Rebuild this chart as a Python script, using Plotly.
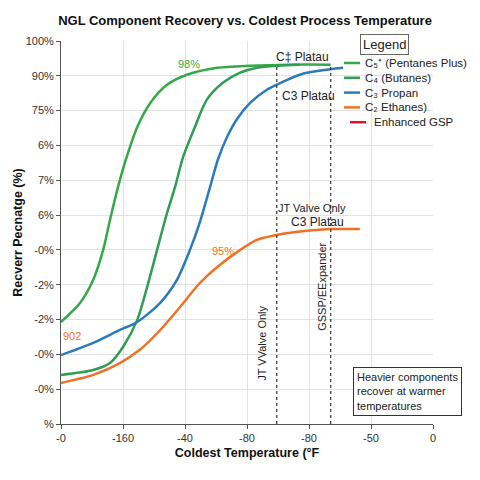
## NGL recovery chart

import plotly.graph_objects as go

# tick labels as printed on the chart (index positions 0..n)
x_ticks = ["-0", "-160", "-40", "-80", "-80", "-50", "0"]
y_ticks = ["%", "-0%", "-0%", "-2%", "-2%", "-0%", "6%", "7%", "6%", "75%", "90%", "100%"]

# curves in tick-index units
c5_x = [0, 0.31, 0.52, 0.68, 0.79, 0.92, 1.06, 1.23, 1.44, 1.71, 2.03, 2.52, 3.05, 3.69, 4.35]
c5_y = [2.93, 3.48, 4.14, 5.00, 5.86, 6.81, 7.67, 8.53, 9.22, 9.74, 10.03, 10.23, 10.29, 10.32, 10.32]

c4_x = [0, 0.52, 0.79, 1.00, 1.23, 1.39, 1.55, 1.71, 1.84, 1.97, 2.16, 2.35, 2.61, 2.89, 3.16, 3.48, 3.85]
c4_y = [1.41, 1.55, 1.75, 2.21, 2.99, 3.94, 5.00, 6.06, 6.81, 7.67, 8.53, 9.31, 9.80, 10.09, 10.23, 10.29, 10.32]

c3_x = [0, 0.52, 0.95, 1.23, 1.60, 1.87, 2.08, 2.24, 2.40, 2.53, 2.68, 2.84, 3.05, 3.32, 3.58, 3.90, 4.55]
c3_y = [1.98, 2.33, 2.70, 2.93, 3.48, 4.14, 5.00, 5.80, 6.78, 7.59, 8.25, 8.76, 9.22, 9.60, 9.83, 10.06, 10.23]

c2_x = [0, 0.52, 0.95, 1.27, 1.60, 1.92, 2.24, 2.52, 2.89, 3.16, 3.48, 3.97, 4.34, 4.82]
c2_y = [1.18, 1.41, 1.75, 2.13, 2.70, 3.36, 4.05, 4.51, 5.00, 5.29, 5.43, 5.55, 5.60, 5.60]

# dashed process limits
limit_x = [3.48, 4.35]
limit_top = 10.32

names = ["C₅⁺ (Pentanes Plus)", "C₄ (Butanes)", "C₃ Propan", "C₂ Ethanes)", "Enhanced GSP"]
colors = ["#35a84a", "#2f9e52", "#2b7bba", "#f07025", "#e0102a"]

font = "Liberation Sans, Arial, sans-serif"

fig = go.Figure()

for name, xs, ys, col in zip(names, [c5_x, c4_x, c3_x, c2_x], [c5_y, c4_y, c3_y, c2_y], colors):
    fig.add_trace(go.Scatter(x=xs, y=ys, name=name, mode="lines", showlegend=False,
                             line=dict(color=col, width=2.5, shape="spline", smoothing=0.8)))

for lx in limit_x:
    fig.add_trace(go.Scatter(x=[lx, lx], y=[0, limit_top], mode="lines", showlegend=False,
                             line=dict(color="#333", width=1.2, dash="3px,3px")))

notes = [
    ("C‡ Platau", 3.90, 10.55, "#222", 12, 0, "center"),
    ("C3 Platau", 3.53, 9.43, "#222", 12, 0, "left"),
    ("98%", 2.06, 10.34, "#35a84a", 11, 0, "center"),
    ("JT Valve Only", 4.05, 6.21, "#222", 11, 0, "center"),
    ("C3 Platau", 4.13, 5.80, "#222", 12, 0, "center"),
    ("95%", 2.61, 4.97, "#f07025", 11, 0, "center"),
    ("902", 0.0, 2.53, "#f07025", 11, 0, "left"),
    ("JT VValve Only", 3.24, 2.33, "#222", 11, -90, "center"),
    ("GSSP/EExpander", 4.21, 3.94, "#222", 11, -90, "center"),
]
for txt, ax, ay, col, sz, ang, anc in notes:
    fig.add_annotation(x=ax, y=ay, text=txt, showarrow=False, textangle=ang,
                       xanchor=anc, yanchor="middle",
                       font=dict(family=font, size=sz, color=col))

fig.add_annotation(x=4.71, y=0.23, xanchor="left", yanchor="bottom", align="left", showarrow=False,
                   text="Heavier components<br>recover at warmer<br>temperatures",
                   font=dict(family=font, size=11, color="#222"),
                   bordercolor="#333", borderwidth=1, borderpad=3, bgcolor="white")

# hand-made legend (compact rows like the original)
L, T, W, H = 61, 41, 372, 383
def px(x):
    return (x - L) / W
def py(y):
    return (T + H - y) / H

fig.add_annotation(xref="paper", yref="paper", x=px(384), y=py(44), text="Legend", showarrow=False,
                   xanchor="center", yanchor="middle",
                   font=dict(family=font, size=13, color="#222"),
                   bordercolor="#666", borderwidth=1, borderpad=2, bgcolor="white")
for i, (name, col) in enumerate(zip(names, colors)):
    ry = 63 + i * 14.8
    x0 = 350 if i == 4 else 344
    fig.add_shape(type="line", xref="paper", yref="paper", x0=px(x0), x1=px(x0 + 16),
                  y0=py(ry), y1=py(ry), line=dict(color=col, width=2.5))
    fig.add_annotation(xref="paper", yref="paper", x=px(x0 + 19 + (3 if i == 4 else 0)), y=py(ry),
                       xanchor="left", yanchor="middle", text=name, showarrow=False,
                       font=dict(family=font, size=11.5, color="#222"))

fig.update_layout(
    width=480, height=480,
    margin=dict(l=L, r=480 - L - W, t=T, b=480 - T - H),
    paper_bgcolor="white", plot_bgcolor="white",
    font=dict(family=font, color="#222"),
    showlegend=False,
    title=dict(text="<b>NGL Component Recovery vs. Coldest Process Temperature</b>",
               x=245 / 480, y=1 - 20 / 480, xanchor="center", yanchor="middle",
               font=dict(size=13, color="#111")),
    xaxis=dict(range=[0, 6], tickvals=list(range(len(x_ticks))), ticktext=x_ticks,
               showgrid=True, gridcolor="#e2e2e2", zeroline=False, showline=True,
               linecolor="#555", ticks="outside", ticklen=4, tickcolor="#555", automargin=False,
               tickfont=dict(size=11, color="#333"),
               title=dict(text="<b>Coldest Temperature (°F</b>", font=dict(size=12.5, color="#111"),
                          standoff=5)),
    yaxis=dict(range=[0, 11], tickvals=list(range(len(y_ticks))), ticktext=y_ticks,
               showgrid=True, gridcolor="#e2e2e2", zeroline=False, showline=True,
               linecolor="#555", ticks="outside", ticklen=4, tickcolor="#555", automargin=False,
               tickfont=dict(size=11, color="#333"),
               title=dict(text="<b>Recverr Pecnatge (%)</b>", font=dict(size=12.5, color="#111"),
                          standoff=0)),
)

# drop the page's default body margin so the figure sits at the window corner
fig.write_html("out.html", config={"displayModeBar": False},
               post_script="document.body.style.margin='0';")
